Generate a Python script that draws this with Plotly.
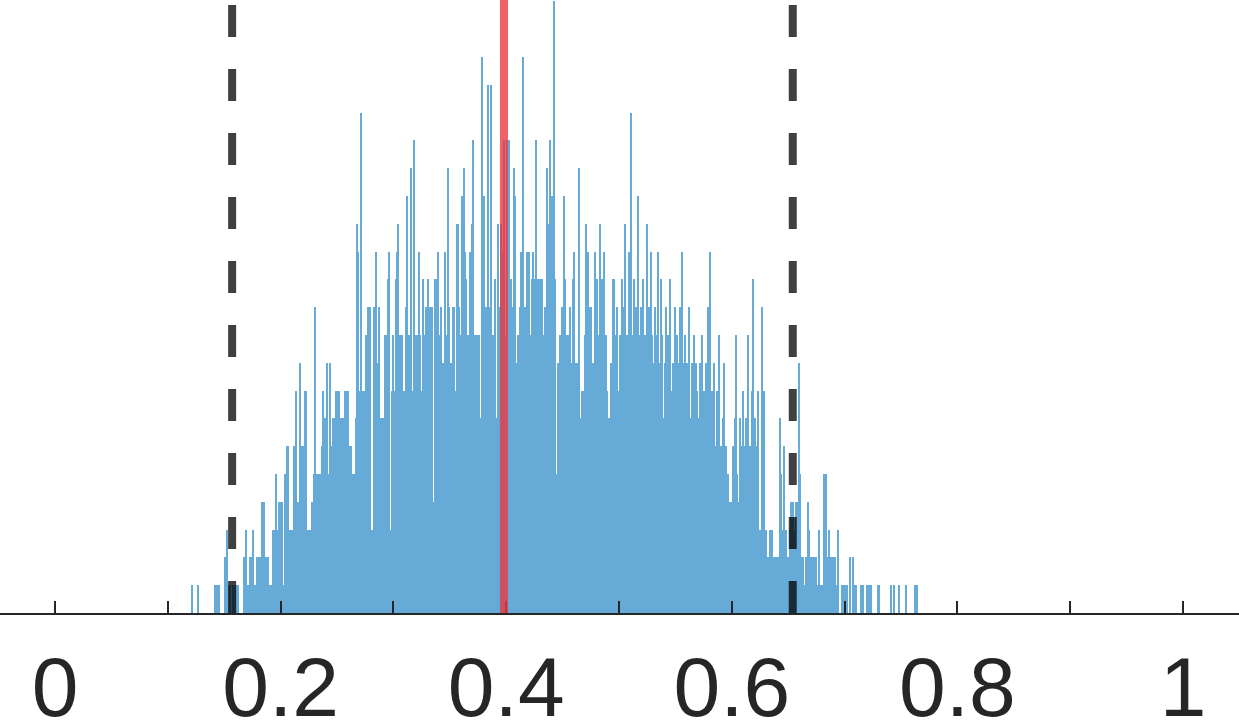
import numpy as np
import plotly.graph_objects as go

# Histogram: first bin edge and bin width (x units), counts per bin
bin_start = 0.120
bin_width = 0.001
counts = [
    0,1,0,0,0,0,1,0,0,0,
    0,0,0,0,0,0,0,0,0,0,
    0,1,1,0,1,1,0,0,0,0,
    2,2,3,1,1,1,0,1,1,1,
    1,1,1,0,0,0,0,2,2,3,
    1,1,2,2,1,3,1,1,1,2,
    2,2,2,4,4,4,2,2,2,1,
    1,1,1,3,3,5,3,3,4,4,
    3,4,1,5,5,6,6,2,3,3,
    3,6,6,8,2,4,1,9,6,6,
    2,8,8,2,3,2,3,4,4,5,
    11,5,3,5,5,4,6,8,3,7,
    7,9,5,9,6,6,7,7,0,8,
    8,8,5,7,7,2,7,8,8,8,
    6,6,6,5,4,5,7,14,13,8,
    8,18,6,8,8,10,10,11,7,11,
    3,3,11,6,13,9,9,11,7,7,
    7,6,10,9,10,12,13,3,8,10,
    8,7,12,13,14,10,10,10,4,8,
    8,11,15,10,8,16,8,7,17,10,
    10,6,13,10,8,8,12,10,11,9,
    12,9,11,9,11,4,12,11,12,13,
    10,7,11,9,9,13,10,8,16,11,
    6,9,11,11,7,8,14,14,11,10,
    15,10,16,13,12,6,10,13,12,14,
    17,10,10,8,10,10,7,6,20,7,
    15,8,11,19,11,6,19,10,10,9,
    12,7,14,11,11,14,13,11,17,10,
    17,9,17,11,12,11,16,15,9,7,
    10,10,11,13,20,11,8,11,13,13,
    13,10,12,13,12,8,17,11,12,12,
    12,12,9,10,11,11,16,14,17,15,
    15,12,22,12,5,9,9,10,10,11,
    11,15,12,10,10,10,11,9,6,12,
    13,9,6,9,16,5,7,8,8,10,
    14,10,13,10,11,11,9,9,13,5,
    12,10,10,14,12,6,13,10,10,8,
    7,7,9,9,12,12,10,9,11,8,
    10,8,12,9,11,14,9,10,13,9,
    18,10,9,12,8,11,15,10,9,11,
    9,12,8,10,14,9,11,8,13,10,
    9,11,8,10,13,8,9,12,10,7,
    9,11,8,10,9,12,8,9,7,11,
    8,10,9,7,11,13,8,9,10,7,
    9,8,11,7,9,8,10,6,9,8,
    7,9,8,10,7,8,6,9,11,7,
    13,4,8,7,9,6,8,7,10,4,
    6,2,7,9,6,2,5,4,4,4,
    4,6,7,10,5,4,4,7,6,8,
    6,5,7,5,10,3,6,8,12,6,
    7,5,6,8,3,3,11,3,8,3,
    3,2,2,3,3,3,2,2,2,2,
    2,2,7,5,3,2,6,2,3,2,
    2,3,4,2,4,3,4,2,4,9,
    5,2,2,2,1,2,2,4,3,2,
    2,2,2,2,2,1,1,3,1,1,
    1,5,3,5,2,2,3,2,2,2,
    2,2,1,1,3,0,0,1,1,1,
    1,0,1,0,2,0,0,2,1,1,
    1,0,0,0,1,0,1,0,0,1,
    0,1,0,1,0,0,0,0,0,1,
    1,0,0,0,0,0,0,0,0,0,
    0,1,0,1,0,0,0,0,1,0,
    0,0,0,0,1,0,0,0,0,0,
    0,0,1,0,1,0,0,0,0,0,
]

# Reference lines
mean_value = 0.398
ci_low = 0.157
ci_high = 0.654

# Axis ticks
tick_values = [0, 0.1, 0.2, 0.3, 0.4, 0.5, 0.6, 0.7, 0.8, 0.9, 1.0]
tick_labels = ["0", "", "0.2", "", "0.4", "", "0.6", "", "0.8", "", "1"]

bin_centers = bin_start + bin_width * (np.arange(len(counts)) + 0.5)

fig = go.Figure()
fig.add_trace(go.Bar(
    x=bin_centers, y=counts, width=bin_width,
    marker=dict(color="rgb(102,170,215)", line=dict(width=0)),
    hoverinfo="skip", showlegend=False,
))

ymax = 22.05
# confidence bounds (dashed)
for xv in (ci_low, ci_high):
    fig.add_shape(type="line", xref="x", yref="paper",
                  x0=xv, x1=xv, y0=1 - 5 / 613, y1=0,
                  line=dict(color="rgba(0,0,0,0.75)", width=8, dash="32px,32px"),
                  layer="above")
# mean line
fig.add_shape(type="line", xref="x", yref="paper",
              x0=mean_value, x1=mean_value, y0=1, y1=0,
              line=dict(color="rgba(232,57,66,0.8)", width=8),
              layer="above")

fig.update_layout(
    width=1239, height=722,
    margin=dict(l=0, r=0, t=0, b=109, pad=0, autoexpand=False),
    paper_bgcolor="white", plot_bgcolor="white",
    bargap=0,
    font=dict(family="Liberation Sans, Arial, Helvetica, sans-serif", color="#262626"),
    xaxis=dict(
        range=[-0.0488, 1.0496],
        tickvals=tick_values, ticktext=tick_labels,
        ticks="inside", ticklen=12, tickwidth=1.5, tickcolor="#262626",
        showline=True, linecolor="#262626", linewidth=1.5,
        showgrid=False, zeroline=False,
        tickfont=dict(size=84, color="#262626"),
        ticklabelstandoff=0,
        automargin=False,
    ),
    yaxis=dict(range=[0, ymax], visible=False, showgrid=False, zeroline=False,
               automargin=False),
)

fig.write_html(
    "out.html",
    config={"displayModeBar": False},
    post_script="document.body.style.margin='0';document.body.style.overflow='hidden';",
)
